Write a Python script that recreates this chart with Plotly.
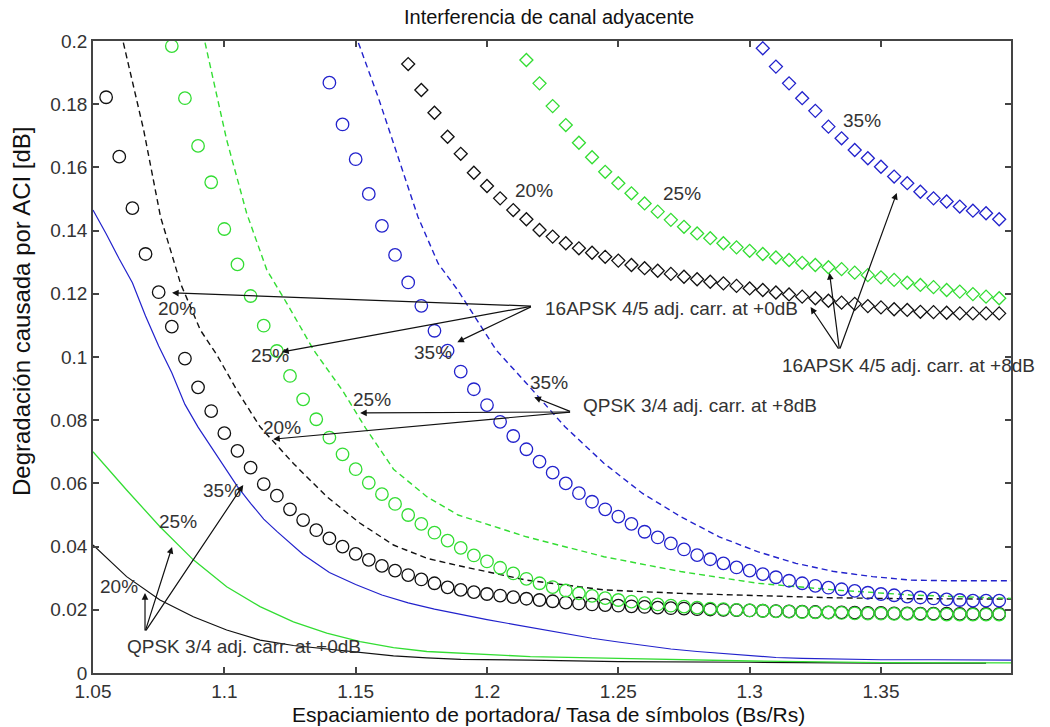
import plotly.graph_objects as go

# ---------------- data ----------------
# 16APSK 4/5 adj. carrier at +0dB (circle markers)
circ20_x = [round(1.055 + 0.005 * i, 3) for i in range(69)]
circ20_y = [0.1822, 0.1634, 0.1471, 0.1326, 0.1205, 0.1096, 0.0995, 0.0904, 0.0829, 0.0759,
            0.0703, 0.0650, 0.0598, 0.0561, 0.0518, 0.0484, 0.0452, 0.0426, 0.0400, 0.0377,
            0.0358, 0.0339, 0.0324, 0.0310, 0.0296, 0.0284, 0.0271, 0.0263, 0.0256, 0.0250,
            0.0245, 0.0240, 0.0235, 0.0231, 0.0227, 0.0223, 0.0220, 0.0217, 0.0215, 0.0213,
            0.0211, 0.0209, 0.0207, 0.0205, 0.0204, 0.0202, 0.0201, 0.0200, 0.0199, 0.0198,
            0.0197, 0.0196, 0.0195, 0.0194, 0.0193, 0.0192, 0.0192, 0.0191, 0.0190, 0.0190,
            0.0189, 0.0189, 0.0188, 0.0188, 0.0188, 0.0187, 0.0187, 0.0187, 0.0187]
circ25_x = [round(1.080 + 0.005 * i, 3) for i in range(64)]
circ25_y = [0.1984, 0.1819, 0.1668, 0.1553, 0.1405, 0.1293, 0.1193, 0.1099, 0.1019, 0.0940,
            0.0866, 0.0803, 0.0745, 0.0692, 0.0645, 0.0602, 0.0566, 0.0535, 0.0500, 0.0472,
            0.0444, 0.0419, 0.0396, 0.0372, 0.0353, 0.0333, 0.0315, 0.0298, 0.0284, 0.0272,
            0.0261, 0.0252, 0.0244, 0.0237, 0.0231, 0.0226, 0.0221, 0.0217, 0.0213, 0.0210,
            0.0207, 0.0204, 0.0202, 0.0200, 0.0198, 0.0197, 0.0195, 0.0194, 0.0193, 0.0192,
            0.0191, 0.0190, 0.0189, 0.0188, 0.0188, 0.0187, 0.0187, 0.0186, 0.0186, 0.0185,
            0.0185, 0.0185, 0.0185, 0.0185]
circ35_x = [round(1.140 + 0.005 * i, 3) for i in range(52)]
circ35_y = [0.1868, 0.1736, 0.1626, 0.1516, 0.1415, 0.1323, 0.1236, 0.1162, 0.1083, 0.1020,
            0.0954, 0.0898, 0.0848, 0.0795, 0.0750, 0.0708, 0.0669, 0.0634, 0.0600, 0.0569,
            0.0542, 0.0518, 0.0495, 0.0472, 0.0447, 0.0429, 0.0410, 0.0391, 0.0373, 0.0360,
            0.0347, 0.0334, 0.0324, 0.0313, 0.0303, 0.0292, 0.0284, 0.0276, 0.0270, 0.0265,
            0.0260, 0.0254, 0.0250, 0.0246, 0.0242, 0.0239, 0.0236, 0.0233, 0.0231, 0.0229,
            0.0229, 0.0229]

# 16APSK 4/5 adj. carrier at +8dB (diamond markers)
diam20_x = [round(1.170 + 0.005 * i, 3) for i in range(46)]
diam20_y = [0.1927, 0.1845, 0.1773, 0.1697, 0.1643, 0.1583, 0.1541, 0.1502, 0.1465, 0.1436,
            0.1402, 0.1381, 0.1360, 0.1344, 0.1330, 0.1317, 0.1305, 0.1291, 0.1281, 0.1273,
            0.1263, 0.1254, 0.1246, 0.1238, 0.1233, 0.1225, 0.1217, 0.1212, 0.1204, 0.1198,
            0.1191, 0.1186, 0.1178, 0.1172, 0.1168, 0.1161, 0.1157, 0.1151, 0.1149, 0.1143,
            0.1142, 0.1140, 0.1138, 0.1138, 0.1138, 0.1138]
diam25_x = [round(1.215 + 0.005 * i, 3) for i in range(37)]
diam25_y = [0.1940, 0.1866, 0.1794, 0.1734, 0.1678, 0.1632, 0.1586, 0.1550, 0.1518, 0.1486,
            0.1460, 0.1434, 0.1412, 0.1391, 0.1376, 0.1360, 0.1347, 0.1336, 0.1326, 0.1315,
            0.1307, 0.1298, 0.1291, 0.1284, 0.1278, 0.1267, 0.1259, 0.1252, 0.1244, 0.1235,
            0.1228, 0.1221, 0.1212, 0.1207, 0.1199, 0.1191, 0.1186]
diam35_x = [round(1.305 + 0.005 * i, 3) for i in range(19)]
diam35_y = [0.1977, 0.1919, 0.1866, 0.1819, 0.1779, 0.1729, 0.1692, 0.1655, 0.1629, 0.1602,
            0.1571, 0.1550, 0.1523, 0.1502, 0.1492, 0.1476, 0.1463, 0.1455, 0.1436]

# QPSK 3/4 adj. carrier at +0dB (solid lines)
sol20_x = [1.05, 1.0628, 1.0755, 1.0882, 1.1009, 1.1136, 1.1263, 1.139, 1.1517, 1.1644,
           1.1771, 1.19, 1.2165, 1.25, 1.30, 1.35, 1.39]
sol20_y = [0.0405, 0.0305, 0.0231, 0.0178, 0.0136, 0.0104, 0.0087, 0.0076, 0.0064, 0.0054,
           0.0048, 0.0043, 0.0041, 0.0036, 0.0034, 0.0031, 0.0031]
sol25_x = [1.05, 1.0628, 1.0755, 1.0882, 1.1009, 1.1136, 1.1263, 1.139, 1.1517, 1.1644,
           1.1771, 1.19, 1.2165, 1.25, 1.30, 1.35, 1.3995]
sol25_y = [0.0700, 0.0579, 0.0463, 0.0358, 0.0273, 0.0210, 0.0162, 0.0126, 0.0099, 0.0080,
           0.0068, 0.0062, 0.0052, 0.0046, 0.0038, 0.0033, 0.0032]
sol35_x = [1.05, 1.055, 1.06, 1.065, 1.07, 1.075, 1.08, 1.085, 1.09, 1.095, 1.10, 1.105,
           1.11, 1.115, 1.12, 1.13, 1.14, 1.15, 1.16, 1.17, 1.18, 1.19, 1.20, 1.21, 1.22,
           1.23, 1.24, 1.25, 1.26, 1.27, 1.28, 1.29, 1.30, 1.31, 1.32, 1.33, 1.34, 1.35,
           1.37, 1.3995]
sol35_y = [0.1465, 0.1390, 0.1310, 0.1235, 0.1130, 0.1035, 0.0950, 0.0850, 0.0778, 0.0715,
           0.0655, 0.0590, 0.0537, 0.0487, 0.0448, 0.0375, 0.0318, 0.0280, 0.0247, 0.0222,
           0.0202, 0.0185, 0.0169, 0.0154, 0.0139, 0.0124, 0.0110, 0.0098, 0.0087, 0.0076,
           0.0068, 0.0061, 0.0054, 0.0049, 0.0046, 0.0044, 0.0043, 0.0042, 0.0042, 0.0041]

# QPSK 3/4 adj. carrier at +8dB (dashed lines)
dash20_x = [1.058, 1.0616, 1.0693, 1.0757, 1.0833, 1.0909, 1.0972, 1.1047, 1.1136, 1.1263,
            1.139, 1.1517, 1.1644, 1.1771, 1.189, 1.215, 1.2445, 1.2737, 1.303, 1.332,
            1.361, 1.3995]
dash20_y = [0.215, 0.1993, 0.1718, 0.1444, 0.1233, 0.1085, 0.1006, 0.0896, 0.0779, 0.0663,
            0.0558, 0.0474, 0.0405, 0.0363, 0.0340, 0.0294, 0.0263, 0.0252, 0.0245, 0.0238,
            0.0235, 0.0234]
dash25_x = [1.089, 1.0927, 1.1009, 1.1085, 1.1162, 1.1238, 1.134, 1.1449, 1.1538, 1.1644,
            1.1771, 1.189, 1.215, 1.2445, 1.2737, 1.303, 1.332, 1.361, 1.3995]
dash25_y = [0.215, 0.1993, 0.1687, 0.1455, 0.1275, 0.1170, 0.1022, 0.0895, 0.0775, 0.0645,
            0.0558, 0.0500, 0.0431, 0.0368, 0.0321, 0.0284, 0.0263, 0.0247, 0.0236]
dash35_x = [1.148, 1.1511, 1.1585, 1.1661, 1.1737, 1.1814, 1.189, 1.2035, 1.215, 1.2296,
            1.2445, 1.2591, 1.2737, 1.2884, 1.303, 1.3176, 1.3322, 1.3468, 1.3614, 1.376,
            1.3995]
dash35_y = [0.215, 0.1993, 0.1824, 0.1634, 0.1444, 0.1296, 0.1210, 0.1022, 0.0917, 0.0780,
            0.0664, 0.0569, 0.0495, 0.0431, 0.0384, 0.0347, 0.0321, 0.0305, 0.0294, 0.0292,
            0.0292]

x_ticks = [1.05, 1.1, 1.15, 1.2, 1.25, 1.3, 1.35]
x_tick_text = ["1.05", "1.1", "1.15", "1.2", "1.25", "1.3", "1.35"]
y_ticks = [0, 0.02, 0.04, 0.06, 0.08, 0.1, 0.12, 0.14, 0.16, 0.18, 0.2]
y_tick_text = ["0", "0.02", "0.04", "0.06", "0.08", "0.1", "0.12", "0.14", "0.16", "0.18", "0.2"]

# text labels: (text, x, y, xanchor)
labels = [
    ("20%", 1.082, 0.1155, "center"),
    ("25%", 1.1175, 0.1006, "center"),
    ("35%", 1.1796, 0.1013, "center"),
    ("35%", 1.2235, 0.0918, "center"),
    ("25%", 1.1564, 0.0864, "center"),
    ("20%", 1.1221, 0.0778, "center"),
    ("35%", 1.0992, 0.0579, "center"),
    ("25%", 1.0824, 0.0478, "center"),
    ("20%", 1.0599, 0.0275, "center"),
    ("20%", 1.2178, 0.1528, "center"),
    ("25%", 1.2742, 0.1519, "center"),
    ("35%", 1.3428, 0.1750, "center"),
    ("16APSK 4/5 adj. carr. at +0dB", 1.2212, 0.1155, "left"),
    ("16APSK 4/5 adj. carr. at +8dB", 1.3115, 0.0972, "left"),
    ("QPSK 3/4 adj. carr. at +8dB", 1.2357, 0.0848, "left"),
    ("QPSK 3/4 adj. carr. at +0dB", 1.0622, 0.0085, "left"),
]

# arrows: (tail_x, tail_y, tip_x, tip_y)
arrows = [
    (1.2173, 0.1161, 1.0801, 0.1203),
    (1.2173, 0.1161, 1.1220, 0.1016),
    (1.2173, 0.1161, 1.1887, 0.1047),
    (1.3342, 0.1022, 1.3232, 0.1158),
    (1.3342, 0.1022, 1.3304, 0.1266),
    (1.3342, 0.1022, 1.3560, 0.1519),
    (1.2322, 0.0826, 1.2180, 0.0873),
    (1.2322, 0.0826, 1.1517, 0.0823),
    (1.2322, 0.0826, 1.1186, 0.0740),
    (1.0698, 0.0130, 1.0698, 0.0253),
    (1.0698, 0.0130, 1.0801, 0.0399),
    (1.0698, 0.0130, 1.1072, 0.0595),
]

BLACK = "#111111"
GREEN = "#33dd33"
BLUE = "#2222cc"
FONT = "Arial"

fig = go.Figure()

def add_line(x, y, color, dash, width):
    fig.add_trace(go.Scatter(x=x, y=y, mode="lines",
                             line=dict(color=color, width=width, dash=dash),
                             showlegend=False, hoverinfo="skip"))

def add_markers(x, y, color, symbol, size):
    fig.add_trace(go.Scatter(x=x, y=y, mode="markers",
                             marker=dict(symbol=symbol, size=size, color=color,
                                         line=dict(color=color, width=1.3)),
                             showlegend=False, hoverinfo="skip"))

add_line(sol20_x, sol20_y, BLACK, "solid", 1.2)
add_line(sol25_x, sol25_y, GREEN, "solid", 1.3)
add_line(sol35_x, sol35_y, BLUE, "solid", 1.2)
add_line(dash20_x, dash20_y, BLACK, "6px,4px", 1.4)
add_line(dash25_x, dash25_y, GREEN, "6px,4px", 1.4)
add_line(dash35_x, dash35_y, BLUE, "6px,4px", 1.4)
add_markers(circ20_x, circ20_y, BLACK, "circle-open", 12.5)
add_markers(circ25_x, circ25_y, GREEN, "circle-open", 12.5)
add_markers(circ35_x, circ35_y, BLUE, "circle-open", 12.5)
add_markers(diam20_x, diam20_y, BLACK, "diamond-open", 10)
add_markers(diam25_x, diam25_y, GREEN, "diamond-open", 10)
add_markers(diam35_x, diam35_y, BLUE, "diamond-open", 10)

annotations = []
for t, x, y, xa in labels:
    annotations.append(dict(x=x, y=y, xref="x", yref="y", text=t, showarrow=False,
                            xanchor=xa, yanchor="middle",
                            font=dict(family=FONT, size=19, color="#333333")))
for tx, ty, hx, hy in arrows:
    annotations.append(dict(x=hx, y=hy, ax=tx, ay=ty, xref="x", yref="y",
                            axref="x", ayref="y", text="", showarrow=True,
                            arrowhead=2, arrowsize=1.1, arrowwidth=1.2,
                            arrowcolor="#111111", standoff=0, startstandoff=0))

# titles
annotations.append(dict(x=0.4967, y=1.038, xref="paper", yref="paper",
                        text="Interferencia de canal adyacente", showarrow=False,
                        xanchor="center", yanchor="middle",
                        font=dict(family=FONT, size=20, color="#111111")))
annotations.append(dict(x=0.4967, y=-0.0649, xref="paper", yref="paper",
                        text="Espaciamiento de portadora/ Tasa de símbolos (Bs/Rs)",
                        showarrow=False, xanchor="center", yanchor="middle",
                        font=dict(family=FONT, size=21, color="#111111")))
annotations.append(dict(x=-0.0773, y=0.5728, xref="paper", yref="paper",
                        text="Degradación causada por ACI [dB]", showarrow=False,
                        textangle=-90, xanchor="center", yanchor="middle",
                        font=dict(family=FONT, size=24, color="#111111")))

axis_common = dict(showline=True, linecolor="#444444", linewidth=1.8, mirror="ticks",
                   ticks="inside", ticklen=6, tickwidth=1.5, tickcolor="#444444",
                   showgrid=False, zeroline=False,
                   tickfont=dict(family=FONT, size=19, color="#333333"))

fig.update_layout(
    width=1050, height=727,
    margin=dict(l=93, r=39, t=41, b=54),
    paper_bgcolor="white", plot_bgcolor="white",
    xaxis=dict(range=[1.05, 1.3995], tickvals=x_ticks, ticktext=x_tick_text, **axis_common),
    yaxis=dict(range=[0, 0.2], tickvals=y_ticks, ticktext=y_tick_text, **axis_common),
    annotations=annotations,
    showlegend=False,
)

fig.write_html("out.html")
